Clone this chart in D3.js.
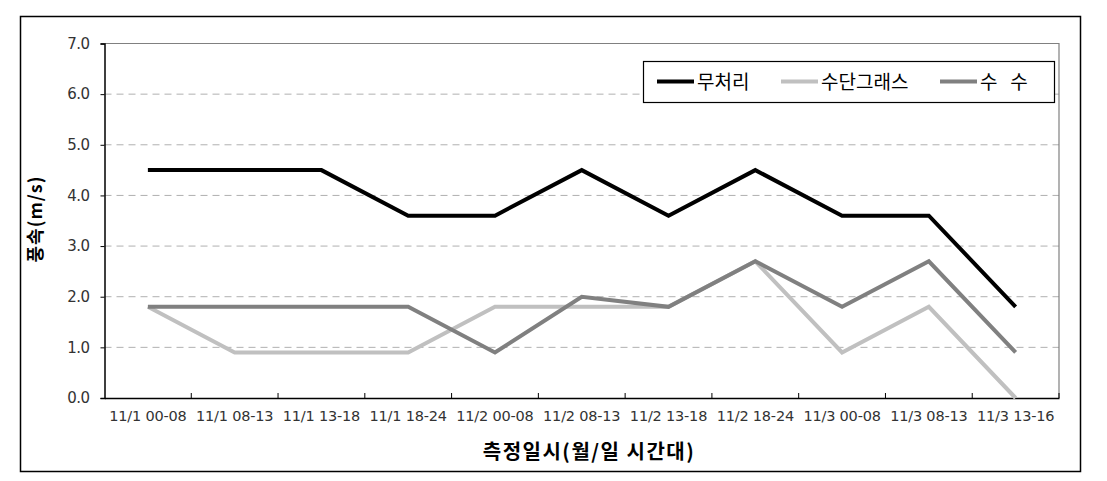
<!DOCTYPE html>
<html><head><meta charset="utf-8">
<script src="https://cdn.jsdelivr.net/npm/d3@7"></script>
<style>body{margin:0;background:#fff}svg{display:block}</style>
</head><body>
<svg id="c" width="1107" height="481"></svg>
<script>
const categories = ["11/1 00-08","11/1 08-13","11/1 13-18","11/1 18-24","11/2 00-08","11/2 08-13","11/2 13-18","11/2 18-24","11/3 00-08","11/3 08-13","11/3 13-16"];
const seriesNames = ["무처리","수단그래스","수   수"];
const untreated = [4.5,4.5,4.5,3.6,3.6,4.5,3.6,4.5,3.6,3.6,1.8];
const sudangrass = [1.8,0.9,0.9,0.9,1.8,1.8,1.8,2.7,0.9,1.8,0.0];
const sorghum = [1.8,1.8,1.8,1.8,0.9,2.0,1.8,2.7,1.8,2.7,0.9];
const yTicks = [0,1,2,3,4,5,6,7];
const colors = ["#000000","#c0c0c0","#808080"];

const svg = d3.select("#c");
const font = "'DejaVu Sans','Noto Sans CJK KR',sans-serif";
const kfont = "'Noto Sans CJK KR',sans-serif";
const L=104.5, R=1059, T=43.5, B=398;
svg.append("rect").attr("x",20.5).attr("y",16.5).attr("width",1060).attr("height",455).attr("fill","none").attr("stroke","#000").attr("stroke-width",1.5);

const x = d3.scaleBand().domain(categories).range([L,R]).padding(0);
const y = d3.scaleLinear().domain([0,7]).range([B,T]);

// grid
svg.append("g").selectAll("line").data(yTicks.filter(d=>d>0&&d<7)).join("line")
  .attr("x1",L).attr("x2",R).attr("y1",d=>y(d)).attr("y2",d=>y(d))
  .attr("stroke","#b0b0b0").attr("stroke-dasharray","7,5").attr("stroke-width",1);
// frame top/right gray
svg.append("path").attr("d",`M${L},${T}H${R}V${B}`).attr("fill","none").attr("stroke","#808080").attr("stroke-width",1.2);

const yAxis = svg.append("g").attr("transform",`translate(${L},0)`)
  .call(d3.axisLeft(y).tickValues(yTicks).tickFormat(d3.format(".1f")).tickSize(4));
yAxis.select(".domain").attr("stroke","#000").attr("stroke-width",1.5);
yAxis.selectAll(".tick line").attr("stroke","#000");
yAxis.selectAll("text").attr("font-family",font).attr("font-size",15).attr("fill","#333").attr("x",-15).attr("letter-spacing",-0.5);

const xAxis = svg.append("g").attr("transform",`translate(0,${B})`)
  .call(d3.axisBottom(x).tickSize(0).tickPadding(13));
xAxis.select(".domain").attr("stroke","#000").attr("stroke-width",1.5);
xAxis.selectAll("text").attr("font-family",font).attr("font-size",14.5).attr("fill","#333").attr("dy","0.71em").attr("letter-spacing",-0.2);
// boundary ticks
svg.append("g").selectAll("line").data(categories).join("line")
  .attr("x1",d=>x(d)+x.bandwidth()).attr("x2",d=>x(d)+x.bandwidth())
  .attr("y1",B).attr("y2",B-5).attr("stroke","#000").attr("stroke-width",1);

const line = d3.line().x((d,i)=>x(categories[i])+x.bandwidth()/2).y(d=>y(d));
const order=[sudangrass,sorghum,untreated], ocol=[colors[1],colors[2],colors[0]];
order.forEach((s,k)=>{
  svg.append("path").datum(s).attr("d",line).attr("fill","none").attr("stroke",ocol[k]).attr("stroke-width",4).attr("stroke-linejoin","miter");
});

// axis titles
svg.append("text").attr("transform","translate(42,219) rotate(-90)").attr("text-anchor","middle")
  .attr("font-family",kfont).attr("font-weight","bold").attr("font-size",18).attr("letter-spacing",1).text("풍속(m/s)");
svg.append("text").attr("x",589).attr("y",459).attr("text-anchor","middle")
  .attr("font-family",kfont).attr("font-weight","bold").attr("font-size",20).attr("letter-spacing",1.5).text("측정일시(월/일 시간대)");

// legend
const lg = svg.append("g");
lg.append("rect").attr("x",643.5).attr("y",61.5).attr("width",411).attr("height",41).attr("fill","#fff").attr("stroke","#000").attr("stroke-width",1.2);
const lx=[657,781,940];
seriesNames.forEach((n,i)=>{
  lg.append("line").attr("x1",lx[i]).attr("x2",lx[i]+37).attr("y1",81.5).attr("y2",81.5).attr("stroke",colors[i]).attr("stroke-width",4);
  lg.append("text").attr("x",lx[i]+40).attr("y",89).attr("font-family",kfont).attr("font-size",19).attr("font-weight",400).style("white-space","pre").text(n);
});
</script>
</body></html>
